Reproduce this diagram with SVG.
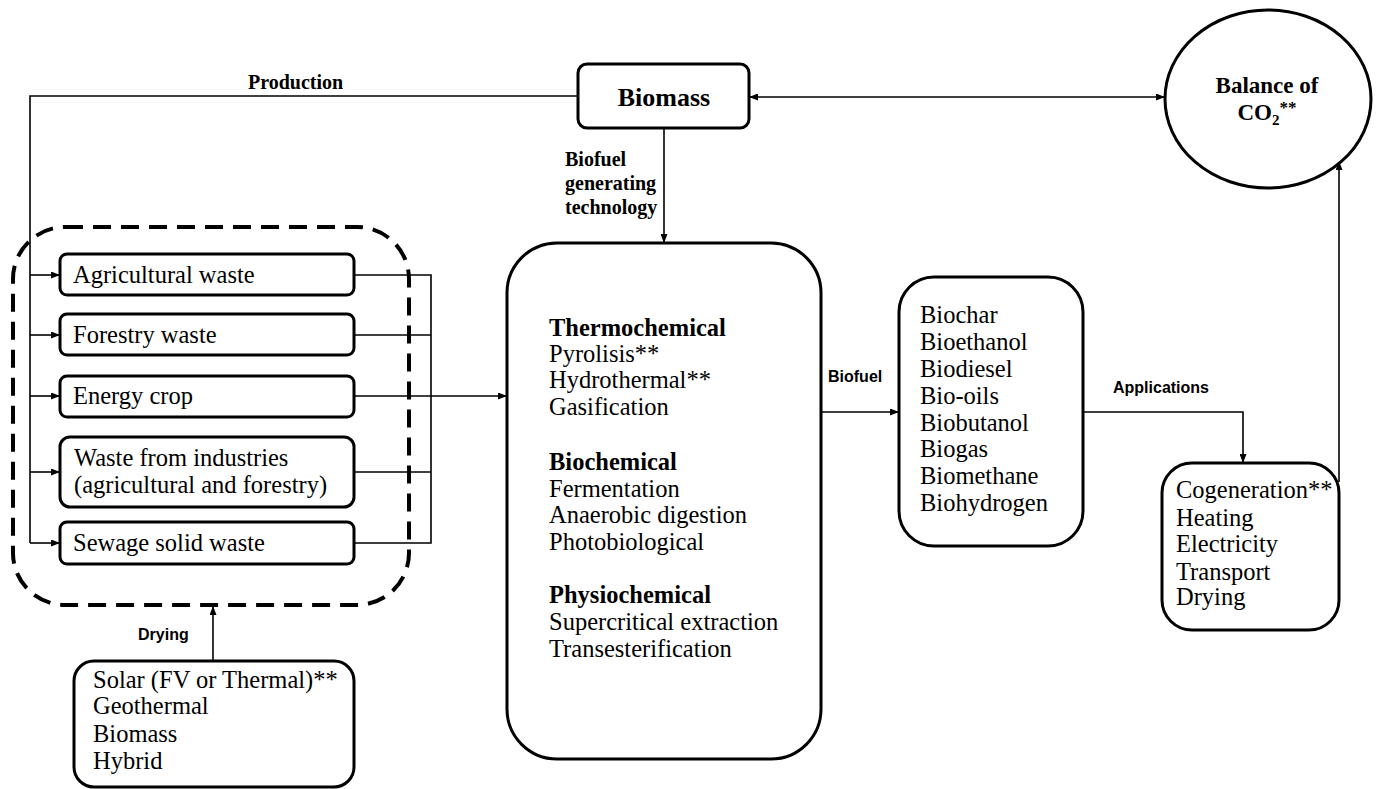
<svg xmlns="http://www.w3.org/2000/svg" width="1379" height="789" viewBox="0 0 1379 789">
<defs>
<marker id="ah" viewBox="0 0 9 7" refX="9" refY="3.5" markerWidth="9" markerHeight="7" markerUnits="userSpaceOnUse" orient="auto-start-reverse">
<path d="M0,0 L9,3.5 L0,7 z" fill="#000"/>
</marker>
</defs>
<style>
.box{fill:#fff;stroke:#000;stroke-width:3}
.ln{fill:none;stroke:#000;stroke-width:1.6}
.arr{fill:none;stroke:#000;stroke-width:1.6;marker-end:url(#ah)}
.t{font-family:"Liberation Serif","Times New Roman",serif;font-size:24.5px;fill:#000}
.b{font-weight:bold}
.s{font-family:"Liberation Sans",Arial,sans-serif;font-size:16px;font-weight:bold;fill:#000}
.lb{font-family:"Liberation Serif","Times New Roman",serif;font-size:20px;font-weight:bold;fill:#000}
</style>
<rect width="1379" height="789" fill="#fff"/>

<g id="connectors">
<path class="ln" d="M578,96 H30 V543"/>
<path class="arr" d="M30,275 H60"/>
<path class="arr" d="M30,335 H60"/>
<path class="arr" d="M30,396 H60"/>
<path class="arr" d="M30,472 H60"/>
<path class="arr" d="M30,543 H60"/>
<path class="ln" d="M354,275 H431 V543 H354"/>
<path class="ln" d="M354,335 H431"/>
<path class="ln" d="M354,472 H431"/>
<path class="arr" d="M354,396 H507"/>
<path class="arr" d="M664,128 V243"/>
<path class="arr" d="M749,97 H1165" style="marker-start:url(#ah)"/>
<path class="arr" d="M821,412 H899"/>
<path class="arr" d="M1083,412 H1243 V463"/>
<path class="arr" d="M1339,482 V161"/>
<path class="arr" d="M213,661 V606"/>
<text class="lb" x="248" y="89">Production</text>
<text class="lb" x="565" y="166">Biofuel</text>
<text class="lb" x="565" y="190">generating</text>
<text class="lb" x="565" y="214">technology</text>
<text class="s" x="828" y="382">Biofuel</text>
<text class="s" x="1113" y="393">Applications</text>
<text class="s" x="138" y="640">Drying</text>
</g>

<g id="biomass">
<rect class="box" x="578" y="64" width="171" height="64" rx="9"/>
<text class="t b" x="664" y="106" text-anchor="middle" style="font-size:26px">Biomass</text>
</g>

<g id="co2">
<ellipse cx="1268" cy="99" rx="103" ry="89" fill="#fff" stroke="#000" stroke-width="3"/>
<text class="t b" x="1267" y="93" text-anchor="middle" style="font-size:23px">Balance of</text>
<text class="t b" x="1267" y="120" text-anchor="middle" style="font-size:23px">CO<tspan style="font-size:15px" dy="5">2</tspan><tspan style="font-size:17px" dy="-12">**</tspan></text>
</g>

<g id="sources">
<rect x="13" y="227" width="396" height="378" rx="52" fill="none" stroke="#000" stroke-width="4" stroke-dasharray="18 10"/>
</g>

<g id="agricultural-waste">
<rect class="box" x="60" y="254" width="294" height="41" rx="7"/>
<text class="t" x="73" y="283">Agricultural waste</text>
</g>
<g id="forestry-waste">
<rect class="box" x="60" y="314" width="294" height="41" rx="7"/>
<text class="t" x="73" y="343">Forestry waste</text>
</g>
<g id="energy-crop">
<rect class="box" x="60" y="376" width="294" height="41" rx="7"/>
<text class="t" x="73" y="404">Energy crop</text>
</g>
<g id="industry-waste">
<rect class="box" x="60" y="437" width="294" height="70" rx="10"/>
<text class="t" x="74" y="466">Waste from industries</text>
<text class="t" x="74" y="493">(agricultural and forestry)</text>
</g>
<g id="sewage">
<rect class="box" x="60" y="522" width="294" height="42" rx="7"/>
<text class="t" x="73" y="551">Sewage solid waste</text>
</g>

<g id="drying-sources">
<rect class="box" x="74" y="661" width="280" height="126" rx="20"/>
<text class="t" x="93" y="688">Solar (FV or Thermal)**</text>
<text class="t" x="93" y="714">Geothermal</text>
<text class="t" x="93" y="742">Biomass</text>
<text class="t" x="93" y="769">Hybrid</text>
</g>

<g id="technology">
<rect class="box" x="507" y="243" width="314" height="516" rx="50"/>
<text class="t b" x="549" y="336">Thermochemical</text>
<text class="t" x="549" y="362">Pyrolisis**</text>
<text class="t" x="549" y="388">Hydrothermal**</text>
<text class="t" x="549" y="415">Gasification</text>
<text class="t b" x="549" y="470">Biochemical</text>
<text class="t" x="549" y="497">Fermentation</text>
<text class="t" x="549" y="523">Anaerobic digestion</text>
<text class="t" x="549" y="550">Photobiological</text>
<text class="t b" x="549" y="603">Physiochemical</text>
<text class="t" x="549" y="630">Supercritical extraction</text>
<text class="t" x="549" y="657">Transesterification</text>
</g>

<g id="biofuels">
<rect class="box" x="899" y="277" width="184" height="269" rx="35"/>
<text class="t" x="920" y="323">Biochar</text>
<text class="t" x="920" y="350">Bioethanol</text>
<text class="t" x="920" y="377">Biodiesel</text>
<text class="t" x="920" y="404">Bio-oils</text>
<text class="t" x="920" y="431">Biobutanol</text>
<text class="t" x="920" y="457">Biogas</text>
<text class="t" x="920" y="484">Biomethane</text>
<text class="t" x="920" y="511">Biohydrogen</text>
</g>

<g id="applications">
<rect class="box" x="1162" y="463" width="177" height="167" rx="30"/>
<text class="t" x="1176" y="498">Cogeneration**</text>
<text class="t" x="1176" y="526">Heating</text>
<text class="t" x="1176" y="552">Electricity</text>
<text class="t" x="1176" y="580">Transport</text>
<text class="t" x="1176" y="605">Drying</text>
</g>
</svg>
